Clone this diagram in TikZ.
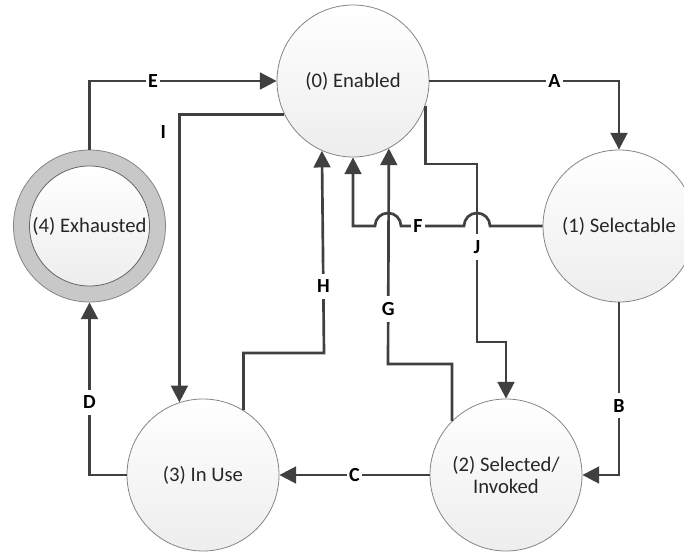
\documentclass[tikz,border=0pt]{standalone}
\usepackage{fontspec}
\setmainfont{Carlito}
\usetikzlibrary{arrows.meta,calc}
\definecolor{wire}{HTML}{404040}
\definecolor{rim}{HTML}{858585}
\definecolor{ringfill}{HTML}{C8C8C8}
\tikzset{
  state/.style={circle, draw=rim, line width=0.6pt, top color=white, bottom color=black!7,
    minimum size=114pt, inner sep=0pt, align=center, text=black!85,
    font=\fontsize{15.5}{17}\selectfont},
  link/.style={draw=wire, line width=2pt, -{Triangle[width=12.5pt,length=12.5pt]}},
  lab/.style={fill=white, inner xsep=1.5pt, inner ysep=4.5pt, text=black,
    font=\fontsize{15}{17}\selectfont\bfseries}
}
\begin{document}
\begin{tikzpicture}[x=0.75pt,y=-0.75pt]
\useasboundingbox (0,0) rectangle (684,552);

% states
\node[state] (n0) at (353,81) {(0) Enabled};
\node[state] (n1) at (619,226) {(1) Selectable};
\node[state] (n2) at (506,475) {(2) Selected/\\Invoked};
\node[state] (n3) at (203,475) {(3) In Use};
\node[circle, draw=rim, line width=0.6pt, fill=ringfill, minimum size=114pt, inner sep=0pt] (n4) at (89.5,226) {};
\node[state, draw=black!60, minimum size=90pt] (n4in) at (n4.center) {(4) Exhausted};

% bend points
\coordinate (hb) at (324,353);
\coordinate (gb) at (388,364);
\coordinate (j1) at (477,164);
\coordinate (j2) at (506,342);
\coordinate (fJ) at (477,226);
\coordinate (fG) at (388,226);

% A
\draw[link] (n0.east) -| node[lab, pos=0.33] {A} (n1.north);
% E
\draw[link] (n4.north) |- node[lab, pos=0.67] {E} (n0.west);
% I
\draw[link] (n0.206.6) -| node[pos=0.53, left=9pt, inner sep=0pt, font=\fontsize{15}{17}\selectfont\bfseries] {I} (n3.108.4);
% H
\draw[link] (n3.58) |- (hb) -- node[lab, pos=0.33] {H} (n0.246.7);
% G
\draw[link] (n2.135) |- (gb) -- node[lab, pos=0.255] {G} (n0.-62.6);
% J
\draw[link] (n0.-19.9) |- (j1) |- node[lab, pos=0.233] {J} (j2) -| (n2.north);
% F, hopping over J and G
\draw[link] (n1.west) -- ($(fJ)+(13,0)$) arc[start angle=0, end angle=180, radius=9.75pt]
  -- node[lab, pos=0.73] {F} ($(fG)+(13,0)$) arc[start angle=0, end angle=180, radius=9.75pt]
  -- (n0.south |- fG) -- (n0.south);
% B
\draw[link] (n1.south) |- node[lab, pos=0.30] {B} (n2.east);
% C
\draw[link] (n2.west) -- node[lab, pos=0.5] {C} (n3.east);
% D
\draw[link] (n3.west) -| node[lab, pos=0.71] {D} (n4.south);
\end{tikzpicture}
\end{document}
